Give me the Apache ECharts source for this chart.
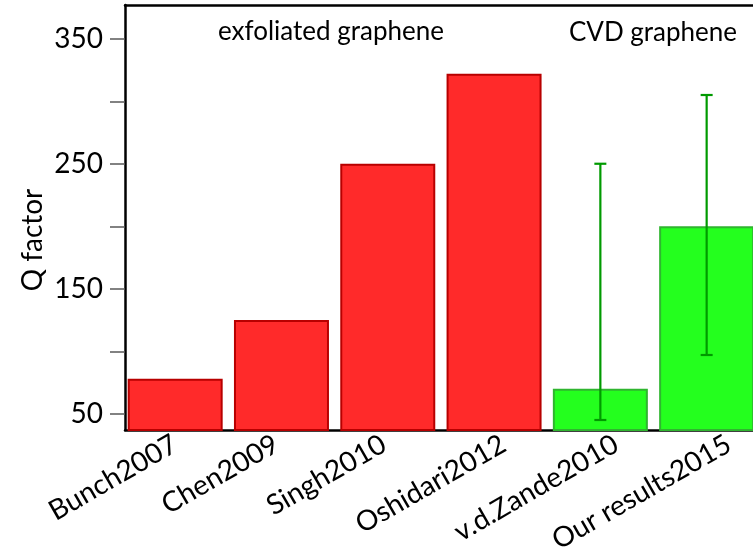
<!DOCTYPE html>
<html>
<head>
<meta charset="utf-8">
<script src="https://cdn.jsdelivr.net/npm/echarts@6/dist/echarts.min.js"></script>
<style>
  html, body { margin: 0; padding: 0; background: #fff; }
  #chart { width: 753px; height: 558px; }
</style>
</head>
<body>
<div id="chart"></div>
<script>
// Q factor of graphene resonators reported in the literature
const categories = ['Bunch2007', 'Chen2009', 'Singh2010', 'Oshidari2012', 'v.d.Zande2010', 'Our results2015'];
const qFactor    = [78, 125, 250, 322, 70, 200];
const material   = ['exfoliated', 'exfoliated', 'exfoliated', 'exfoliated', 'CVD', 'CVD'];
const errLow     = [null, null, null, null, 45, 97];
const errHigh    = [null, null, null, null, 250, 305];
const yTicks     = [50, 100, 150, 200, 250, 300, 350];
const yLabels    = [50, 150, 250, 350];
const groupNotes = ['exfoliated graphene', 'CVD graphene'];

const FONT = 'Lato';
const X_MIN = -0.472, X_MAX = 5.436, Y_MIN = 37, Y_MAX = 377;
const CAT_FONT = '28px ' + FONT;

const styles = {
  exfoliated: { color: '#ff2a2a', borderColor: '#b80000' },
  CVD:        { color: '#24ff1e', borderColor: '#2fb52f' }
};

const barData = qFactor.map((v, i) => ({
  value: [i, v],
  itemStyle: { color: styles[material[i]].color, borderColor: styles[material[i]].borderColor, borderWidth: 2 }
}));

const errData = [];
errLow.forEach((lo, i) => { if (lo != null) errData.push([i, lo, errHigh[i]]); });

// Slanted category labels: longer names slide a little to the right,
// so the text sits roughly centred under its bar
const measureCtx = document.createElement('canvas').getContext('2d');
measureCtx.font = CAT_FONT;
const refWidth = measureCtx.measureText(categories[0]).width;
const labelShift = categories.map(c => 0.38 * (measureCtx.measureText(c).width - refWidth));

const chart = echarts.init(document.getElementById('chart'), null, { renderer: 'canvas' });

const hiddenX = (pos) => ({
  type: 'value',
  position: pos,
  min: X_MIN,
  max: X_MAX,
  splitLine: { show: false },
  axisLine: { show: true, onZero: false, lineStyle: { color: '#000', width: 2.5 } },
  axisTick: { show: false },
  axisLabel: { show: false }
});

chart.setOption({
  animation: false,
  backgroundColor: '#fff',
  grid: { left: 125, right: 0, top: 5, bottom: 128, containLabel: false },
  xAxis: [hiddenX('bottom'), hiddenX('top')],
  yAxis: {
    type: 'value',
    min: Y_MIN,
    max: Y_MAX,
    splitLine: { show: false },
    axisLine: { show: true, onZero: false, lineStyle: { color: '#000', width: 2.5 } },
    axisTick: { show: true, length: 15, customValues: yTicks, lineStyle: { color: '#595959', width: 1.5 } },
    axisLabel: { customValues: yLabels, margin: 22, color: '#000', fontFamily: FONT, fontSize: 28 }
  },
  graphic: [
    { type: 'text', x: 331, y: 32, style: { text: groupNotes[0], fill: '#000', font: '26px ' + FONT, textAlign: 'center', textVerticalAlign: 'middle' } },
    { type: 'text', x: 653, y: 33, style: { text: groupNotes[1], fill: '#000', font: '26px ' + FONT, textAlign: 'center', textVerticalAlign: 'middle' } },
    { type: 'text', x: 33, y: 240, rotation: Math.PI / 2, style: { text: 'Q factor', fill: '#000', font: '28px ' + FONT, textAlign: 'center', textVerticalAlign: 'middle' } }
  ],
  series: [{
    type: 'bar',
    barWidth: 95,
    data: barData,
    clip: true
  }, {
    type: 'custom',
    data: errData,
    z: 5,
    renderItem: function (params, api) {
      const x = api.value(0);
      const lo = api.coord([x, api.value(1)]);
      const hi = api.coord([x, api.value(2)]);
      const cap = 6;
      const st = { stroke: '#009a00', lineWidth: 2.2 };
      return {
        type: 'group',
        children: [
          { type: 'line', shape: { x1: lo[0], y1: lo[1], x2: hi[0], y2: hi[1] }, style: st },
          { type: 'line', shape: { x1: hi[0] - cap, y1: hi[1], x2: hi[0] + cap, y2: hi[1] }, style: st },
          { type: 'line', shape: { x1: lo[0] - cap, y1: lo[1], x2: lo[0] + cap, y2: lo[1] }, style: st }
        ]
      };
    }
  }, {
    // category names below the axis
    type: 'custom',
    data: categories.map((c, i) => [i]),
    clip: false,
    silent: true,
    renderItem: function (params, api) {
      const i = api.value(0);
      const p = api.coord([i, Y_MIN]);
      return {
        type: 'text',
        x: p[0] + labelShift[i],
        y: p[1] + 12,
        rotation: Math.PI / 6,
        style: {
          text: categories[i],
          font: CAT_FONT,
          fill: '#000',
          textAlign: 'right',
          textVerticalAlign: 'middle'
        }
      };
    }
  }]
});
</script>
</body>
</html>
